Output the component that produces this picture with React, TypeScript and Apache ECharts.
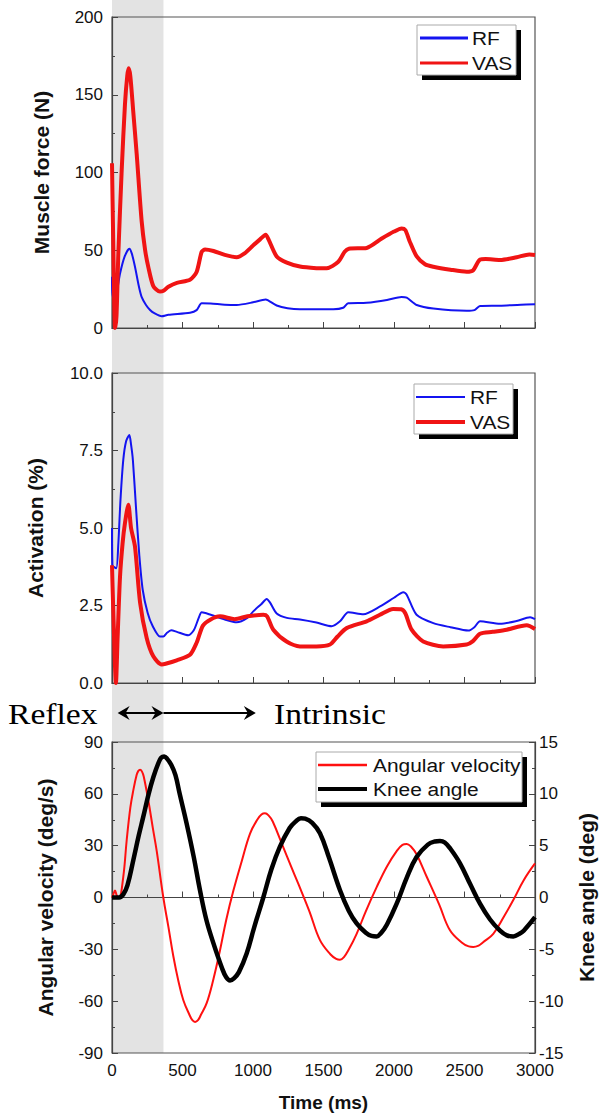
import React, { useEffect, useRef } from "react";
import * as echarts from "echarts";

// ---------- data (time in ms) ----------
const forceRF: [number, number][] = [[0,33],[5,20],[30,22],[57,35],[90,46],[123,51],[140,48],[163,39.4],[190,27],[210,20],[240,15],[270,11.6],[300,9.5],[352,7.5],[400,8.5],[553,9.8],[600,11.5],[636,15.9],[700,15.7],[800,15],[884,14.8],[1000,16.5],[1090,18.4],[1110,17.6],[1168,14.5],[1245,12.7],[1333,12],[1570,12],[1640,13],[1675,15.9],[1806,16.2],[1950,18],[2054,20],[2090,19.5],[2161,14.8],[2279,12.5],[2515,11.1],[2570,11.5],[2610,14.1],[2752,14.3],[2900,15],[3000,15.2]];
const forceVAS: [number, number][] = [[0,106],[8,60],[22,0],[32,8],[45,48],[69,102],[92,144],[108,162],[118,167],[130,162],[150,140],[175,112],[210,69],[235,50],[258,39],[293,27],[340,23.5],[365,24],[400,26.5],[460,29],[553,31],[600,36],[636,49],[660,50.5],[720,49.5],[800,47],[884,45.5],[940,48],[1000,53],[1050,57],[1090,60],[1110,57],[1168,46],[1240,42],[1333,39.5],[1450,38.5],[1522,38.4],[1605,42.6],[1650,49],[1680,51],[1806,51.5],[1913,57.5],[2000,62],[2054,64],[2080,63],[2110,56],[2161,46],[2220,41],[2279,39.4],[2400,37.5],[2515,36.2],[2560,37],[2610,44],[2650,44.3],[2752,43.7],[2870,45.5],[2960,47.3],[3000,47]];
const actRF: [number, number][] = [[0,5.0],[3,3.8],[30,3.7],[45,4.5],[60,5.9],[80,7.2],[100,7.8],[123,8.0],[135,7.7],[148,7.2],[171,5.6],[194,4.1],[218,3.0],[253,2.26],[289,1.83],[340,1.5],[364,1.5],[390,1.62],[420,1.7],[460,1.65],[541,1.54],[580,1.7],[615,2.1],[636,2.28],[700,2.2],[800,2.05],[884,1.96],[960,2.1],[1002,2.31],[1060,2.55],[1097,2.71],[1120,2.6],[1168,2.24],[1240,2.1],[1333,2.05],[1450,1.95],[1558,1.83],[1617,1.99],[1676,2.28],[1783,2.22],[1901,2.47],[2000,2.75],[2066,2.93],[2090,2.85],[2160,2.2],[2279,1.93],[2400,1.8],[2527,1.69],[2570,1.8],[2610,1.99],[2752,1.91],[2870,2.0],[2965,2.12],[3000,2.06]];
const actVAS: [number, number][] = [[0,3.8],[8,2.5],[28,0],[40,1.5],[57,3.44],[75,4.5],[92,5.16],[116,5.75],[135,5.0],[163,4.4],[199,2.6],[246,1.45],[293,0.86],[352,0.6],[380,0.62],[459,0.73],[553,0.91],[600,1.3],[645,1.85],[700,2.05],[766,2.15],[870,2.06],[960,2.15],[1073,2.2],[1100,2.15],[1144,1.72],[1238,1.34],[1333,1.18],[1450,1.18],[1546,1.24],[1600,1.5],[1664,1.77],[1806,1.99],[1900,2.2],[1994,2.39],[2050,2.38],[2080,2.25],[2125,1.72],[2207,1.34],[2349,1.18],[2515,1.24],[2560,1.35],[2610,1.59],[2700,1.65],[2799,1.72],[2941,1.86],[3000,1.74]];
const angVel: [number, number][] = [[0,0],[10,2],[21,4],[35,1],[50,0],[80,12],[104,33],[130,52],[151,62],[175,71],[187,73.3],[199,74],[212,73],[225,70],[258,56],[290,40],[317,27],[364,0],[400,-17],[435,-34],[470,-48],[506,-59.5],[550,-68],[570,-71],[589,-72],[610,-71],[630,-68],[672,-61],[720,-47],[766,-30.5],[810,-13],[861,4],[920,21],[979,37],[1030,45],[1060,48],[1085,48.7],[1110,47.5],[1140,44],[1215,29],[1270,18],[1321,8],[1400,-8],[1475,-24.7],[1550,-33],[1590,-35.5],[1617,-36],[1645,-34.5],[1680,-30],[1735,-21],[1800,-8],[1877,6],[1950,18],[2020,27],[2060,30.5],[2090,31],[2120,29.5],[2160,25],[2232,12],[2320,-4],[2397,-19],[2480,-26],[2530,-28.3],[2562,-28.6],[2600,-27.8],[2630,-26],[2704,-21],[2780,-11],[2846,-1.5],[2920,10],[3000,19.7]];
const kneeAngle: [number, number][] = [[0,0],[50,0],[80,0.3],[110,1.2],[151,3.6],[190,6],[222,7.8],[260,10],[293,11.6],[330,13],[350,13.5],[370,13.6],[390,13.4],[420,12.8],[450,11.8],[480,10],[530,7.1],[580,3.9],[624,0.7],[670,-2.2],[719,-4.4],[780,-6.8],[810,-7.7],[837,-8.0],[865,-7.8],[900,-7.2],[955,-5.4],[1010,-2.8],[1073,0],[1130,2.7],[1191,4.9],[1260,6.7],[1300,7.3],[1340,7.65],[1370,7.6],[1420,7.2],[1475,6.2],[1540,3.8],[1617,0.7],[1680,-1.3],[1735,-2.5],[1800,-3.4],[1840,-3.7],[1877,-3.75],[1910,-3.4],[1950,-2.6],[2019,-0.6],[2090,1.9],[2160,3.9],[2240,5.1],[2290,5.4],[2326,5.45],[2360,5.3],[2400,4.7],[2468,3.3],[2540,1.3],[2610,-0.6],[2680,-2.1],[2752,-3.2],[2800,-3.65],[2846,-3.75],[2890,-3.5],[2920,-3.2],[3000,-1.9]];

const reflexEnd = 365; // ms, end of the reflex phase (shaded)
const arrowStart = 40;
const intrinsicArrowEnd = 1020;

const RED = "#f01414";
const BLUE = "#1414f0";
const AXIS = "#444";
const LABEL_FONT = "Liberation Sans, Arial, sans-serif";

export default function App() {
  const ref = useRef<HTMLDivElement>(null);
  useEffect(() => {
    if (!ref.current) return;
    const chart = echarts.init(ref.current, undefined, { renderer: "svg" });

    const grids = [
      { left: 112, top: 17, width: 423, height: 311 },
      { left: 112, top: 373, width: 423, height: 310 },
      { left: 112, top: 742, width: 423, height: 311 },
    ].map((g) => ({ ...g, show: true, borderColor: "#555", borderWidth: 1.2, backgroundColor: "transparent", containLabel: false, outerBoundsMode: "none" }));

    const xAxes = [0, 1, 2].map((i) => ({
      type: "value",
      gridIndex: i,
      min: 0,
      max: 3000,
      interval: 500,
      axisLine: { show: true, lineStyle: { color: AXIS, width: 1.2 } },
      axisTick: { show: true, inside: true, length: 6, lineStyle: { color: AXIS } },
      minorTick: { show: true, splitNumber: 2, length: 3, lineStyle: { color: AXIS } },
      splitLine: { show: false },
      axisLabel: { show: i === 2, fontSize: 17, color: "#111", margin: 9, fontFamily: LABEL_FONT, formatter: (v: number) => String(v) },
      name: i === 2 ? "Time (ms)" : "",
      nameLocation: "middle",
      nameGap: 40,
      nameTextStyle: { fontSize: 19, fontWeight: "bold", color: "#111", fontFamily: LABEL_FONT },
    }));

    const yBase = (grid: number, min: number, max: number, interval: number, name: string, gap: number, fmt?: (v: number) => string, pos = "left") => ({
      type: "value",
      gridIndex: grid,
      position: pos,
      min,
      max,
      interval,
      axisLine: { show: true, lineStyle: { color: AXIS, width: 1.2 } },
      axisTick: { show: true, inside: true, length: 6, lineStyle: { color: AXIS } },
      minorTick: { show: true, splitNumber: 2, length: 3, lineStyle: { color: AXIS } },
      splitLine: { show: false },
      axisLabel: { fontSize: 17, color: "#111", margin: pos === "left" ? 9 : 4, fontFamily: LABEL_FONT, formatter: fmt ?? ((v: number) => String(v)) },
      name,
      nameLocation: "middle",
      nameRotate: 90,
      nameGap: gap,
      nameTextStyle: { fontSize: 21, fontWeight: "bold", color: "#111", fontFamily: LABEL_FONT },
    });

    const yAxes = [
      yBase(0, 0, 200, 50, "Muscle force (N)", 60),
      yBase(1, 0, 10, 2.5, "Activation (%)", 66, (v: number) => v.toFixed(1)),
      yBase(2, -90, 90, 30, "Angular velocity (deg/s)", 56),
      yBase(2, -15, 15, 5, "Knee angle (deg)", 41, undefined, "right"),
    ];

    const line = (name: string, data: [number, number][], xi: number, yi: number, color: string, width: number, smooth: number) => ({
      type: "line",
      name,
      xAxisIndex: xi,
      yAxisIndex: yi,
      data,
      showSymbol: false,
      symbol: "none",
      smooth,
      lineStyle: { color, width },
      itemStyle: { color },
      z: 3,
    });

    chart.setOption({
      animation: false,
      backgroundColor: "#fff",
      grid: grids,
      xAxis: xAxes,
      yAxis: yAxes,
      series: [
        line("RF", forceRF, 0, 0, BLUE, 2, 0.25),
        line("VAS", forceVAS, 0, 0, RED, 4, 0.25),
        line("RF", actRF, 1, 1, BLUE, 2, 0.25),
        line("VAS", actVAS, 1, 1, RED, 4, 0.25),
        line("Angular velocity", angVel, 2, 2, "#ff1010", 2, 0.4),
        line("Knee angle", kneeAngle, 2, 3, "#000", 4.5, 0.4),
      ],
    });

    const px = (v: number) => chart.convertToPixel({ xAxisIndex: 2 }, v) as number;
    const x0 = px(0);
    const x1 = px(reflexEnd);
    const yBottom = chart.convertToPixel({ yAxisIndex: 2 }, -90) as number;

    const legend = (x: number, y: number, w: number, h: number, items: { name: string; color: string; width: number; dy: number }[], lx0: number, lx1: number, tx: number) => ({
      type: "group",
      x,
      y,
      z: 50,
      children: [
        { type: "rect", shape: { x: 5, y: 5, width: w, height: h }, style: { fill: "#000" }, z: 50 },
        { type: "rect", shape: { x: 0, y: 0, width: w, height: h }, style: { fill: "#fff", stroke: "#aaa", lineWidth: 1 }, z: 51 },
        ...items.flatMap((it) => [
          { type: "line", shape: { x1: lx0, y1: it.dy, x2: lx1, y2: it.dy }, style: { stroke: it.color, lineWidth: it.width }, z: 52 },
          { type: "text", x: tx, y: it.dy, scaleX: 1.1, style: { text: it.name, fill: "#111", fontSize: 19, fontFamily: LABEL_FONT, verticalAlign: "middle", align: "left" }, z: 52 },
        ]),
      ],
    });

    const head = (tipX: number, y: number, dir: number) => ({
      type: "polygon",
      shape: { points: [[tipX, y], [tipX - dir * 12, y - 7], [tipX - dir * 8, y], [tipX - dir * 12, y + 7]] },
      style: { fill: "#000" },
      z: 20,
    });

    const ay = 713;
    const ax0 = px(arrowStart);
    const ax2 = px(intrinsicArrowEnd);

    chart.setOption({
      graphic: [
        { type: "rect", shape: { x: x0, y: 0, width: x1 - x0, height: yBottom }, style: { fill: "#e3e3e3" }, z: -10, silent: true },
        legend(417, 25, 99, 50, [
          { name: "RF", color: BLUE, width: 3, dy: 13 },
          { name: "VAS", color: RED, width: 3, dy: 38 },
        ], 3, 51, 55),
        legend(414, 384, 99, 50, [
          { name: "RF", color: BLUE, width: 2, dy: 13 },
          { name: "VAS", color: RED, width: 4, dy: 38 },
        ], 2, 51, 56),
        legend(316, 752, 206, 50, [
          { name: "Angular velocity", color: "#ff1010", width: 2.5, dy: 13 },
          { name: "Knee angle", color: "#000", width: 4, dy: 37 },
        ], 2, 51, 57),
        { type: "text", x: 8, y: ay + 1, scaleX: 1.12, style: { text: "Reflex", fontSize: 30, fontFamily: "Liberation Serif, Times New Roman, serif", fill: "#000", verticalAlign: "middle" }, z: 20 },
        { type: "text", x: 274, y: ay + 1, scaleX: 1.12, style: { text: "Intrinsic", fontSize: 30, fontFamily: "Liberation Serif, Times New Roman, serif", fill: "#000", verticalAlign: "middle" }, z: 20 },
        { type: "line", shape: { x1: ax0 + 4, y1: ay, x2: x1 - 4, y2: ay }, style: { stroke: "#000", lineWidth: 2 }, z: 20 },
        head(ax0, ay, -1),
        head(x1, ay, 1),
        { type: "line", shape: { x1: x1, y1: ay, x2: ax2 - 4, y2: ay }, style: { stroke: "#000", lineWidth: 2 }, z: 20 },
        head(ax2, ay, 1),
      ],
    });

    return () => chart.dispose();
  }, []);
  return <div ref={ref} style={{ position: "fixed", left: 0, top: 0, width: 599, height: 1115, background: "#fff" }} />;
}
